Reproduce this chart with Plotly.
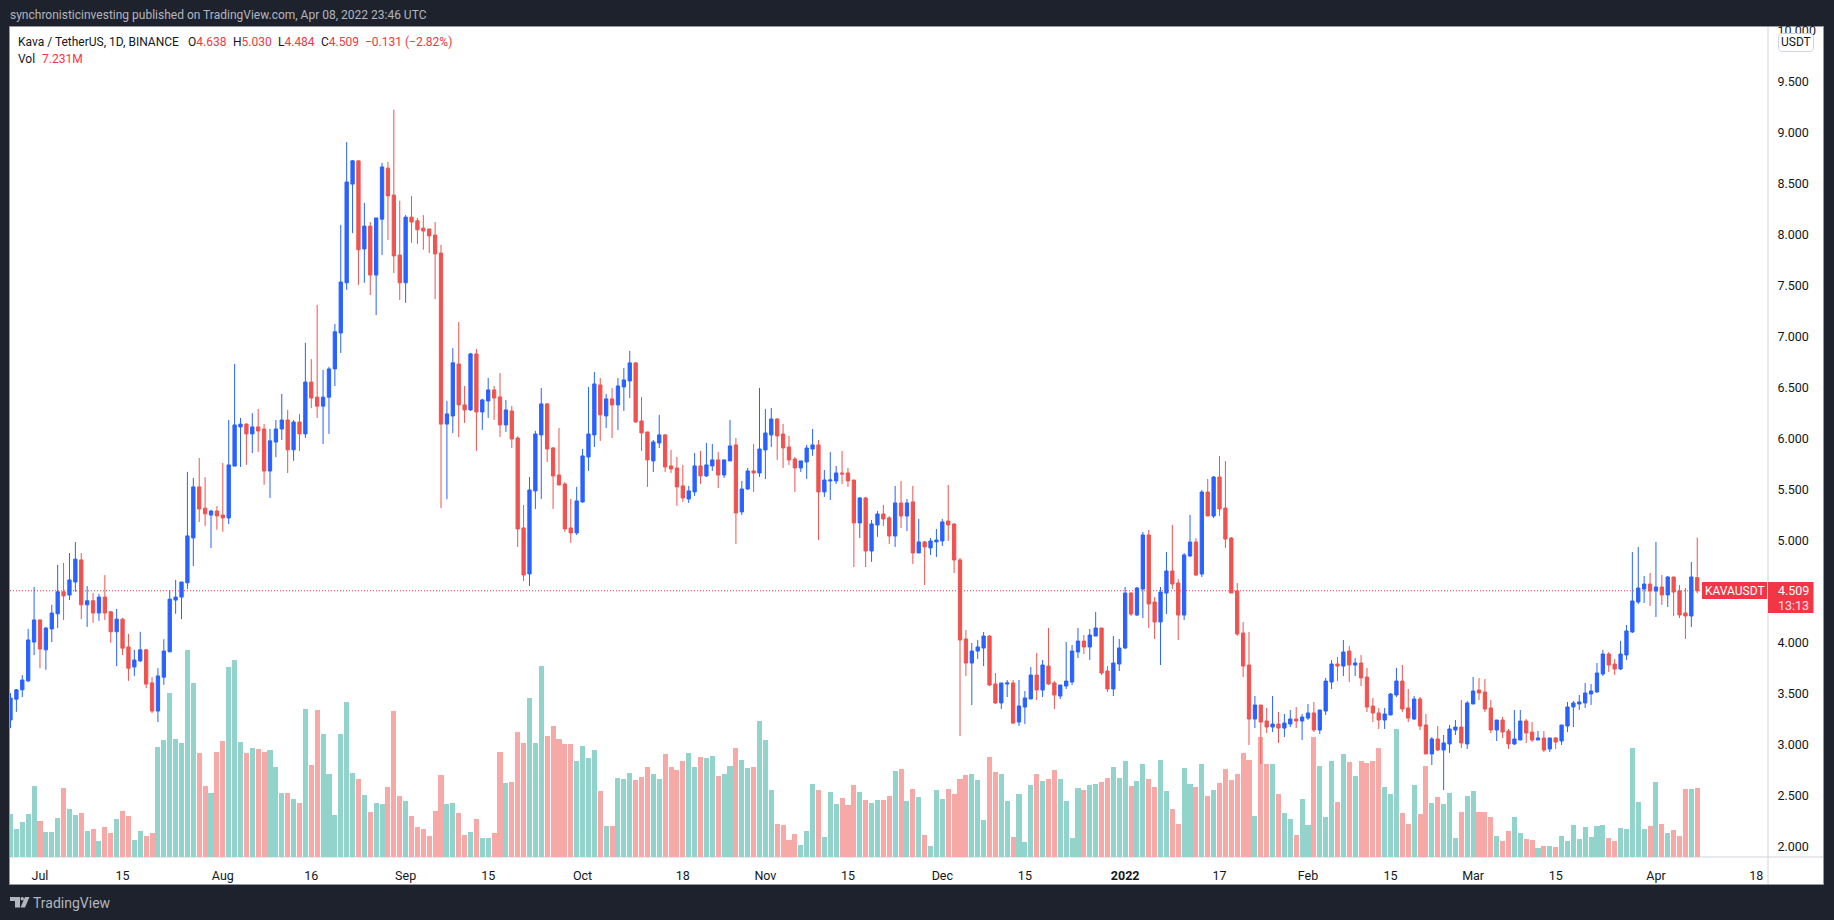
import pandas as pd
import plotly.graph_objects as go

# ---------- data ----------
opens = [
 3.242,3.446,3.538,3.626,4.006,4.223,3.930,4.135,4.283,4.499,
 4.467,4.595,4.811,4.371,4.411,4.291,4.447,4.303,4.107,4.231,
 3.958,3.762,3.822,3.930,3.606,3.330,3.662,3.910,4.418,4.447,
 4.587,5.027,5.527,5.319,5.251,5.291,5.251,5.223,5.731,6.115,
 6.143,6.047,6.115,6.095,5.683,5.967,6.095,6.183,5.891,6.163,
 6.047,6.555,6.407,6.319,6.407,6.684,7.036,7.528,8.496,8.724,
 7.860,8.084,7.604,8.152,8.652,8.388,7.800,7.528,8.172,8.136,
 8.064,8.056,7.996,7.820,6.143,6.223,6.732,6.331,6.282,6.831,
 6.262,6.370,6.478,6.409,6.135,6.272,6.007,5.125,4.674,5.488,
 6.037,6.341,5.909,5.644,5.556,5.125,5.076,5.380,5.821,6.037,
 6.527,6.223,6.390,6.331,6.507,6.566,6.743,6.174,6.066,5.782,
 5.958,6.037,5.733,5.713,5.537,5.409,5.478,5.733,5.635,5.733,
 5.792,5.644,5.782,5.939,5.282,5.507,5.684,5.664,5.890,6.037,
 6.193,6.046,5.919,5.801,5.713,5.772,5.899,5.939,5.478,5.586,
 5.586,5.664,5.664,5.595,5.174,5.419,4.899,5.154,5.262,5.223,
 5.046,5.370,5.242,5.380,4.880,4.988,4.929,4.988,4.997,5.193,
 5.163,4.811,4.036,3.801,3.918,3.948,4.065,3.595,3.409,3.595,
 3.605,3.222,3.369,3.448,3.683,3.536,3.771,3.605,3.477,3.575,
 3.614,3.909,4.016,3.958,4.065,4.144,3.722,3.546,3.791,3.948,
 4.487,4.271,4.526,5.056,4.399,4.203,4.487,4.703,4.585,4.271,
 4.850,4.987,4.673,5.477,5.242,5.624,5.320,5.026,4.507,4.095,
 3.781,3.252,3.389,3.232,3.173,3.203,3.163,3.203,3.252,3.232,
 3.261,3.311,3.144,3.330,3.614,3.791,3.771,3.918,3.781,3.801,
 3.663,3.379,3.311,3.242,3.291,3.487,3.624,3.360,3.252,3.448,
 3.193,2.909,3.056,2.948,3.007,3.144,3.173,3.007,3.399,3.536,
 3.517,3.360,3.144,3.242,3.134,3.007,3.046,3.232,3.124,3.046,
 3.066,2.958,3.066,3.036,3.183,3.370,3.399,3.409,3.497,3.517,
 3.693,3.889,3.791,3.742,3.879,4.105,4.399,4.526,4.575,4.507,
 4.546,4.468,4.644,4.507,4.291,4.262,4.638]
closes = [
 3.458,3.538,3.634,4.027,4.223,3.938,4.143,4.291,4.499,4.459,
 4.615,4.819,4.371,4.411,4.291,4.447,4.291,4.107,4.231,3.946,
 3.750,3.830,3.930,3.594,3.330,3.674,3.918,4.427,4.447,4.595,
 5.047,5.527,5.311,5.263,5.291,5.243,5.223,5.743,6.135,6.143,
 6.047,6.115,6.075,5.683,5.979,6.095,6.183,5.891,6.163,6.047,
 6.555,6.399,6.319,6.407,6.684,7.048,7.536,8.516,8.724,7.852,
 8.084,7.604,8.164,8.664,8.380,7.792,7.528,8.172,8.124,8.048,
 8.036,7.988,7.812,6.143,6.243,6.744,6.331,6.282,6.831,6.262,
 6.380,6.478,6.399,6.135,6.282,5.997,5.115,4.664,5.497,6.046,
 6.341,5.899,5.635,5.546,5.115,5.076,5.390,5.831,6.046,6.537,
 6.233,6.390,6.331,6.517,6.576,6.743,6.164,6.056,5.792,5.968,
 6.037,5.723,5.703,5.527,5.419,5.488,5.733,5.635,5.743,5.792,
 5.644,5.792,5.929,5.272,5.507,5.684,5.664,5.899,6.056,6.193,
 6.027,5.909,5.792,5.713,5.782,5.909,5.939,5.478,5.595,5.595,
 5.664,5.654,5.586,5.174,5.419,4.899,5.164,5.262,5.213,5.046,
 5.370,5.242,5.370,4.880,4.988,4.939,4.997,5.007,5.184,5.154,
 4.811,4.026,3.801,3.918,3.958,4.065,3.585,3.409,3.605,3.605,
 3.212,3.379,3.458,3.683,3.536,3.781,3.595,3.487,3.585,3.624,
 3.918,4.016,3.958,4.075,4.144,3.703,3.546,3.801,3.948,4.487,
 4.281,4.536,5.056,4.379,4.203,4.497,4.703,4.575,4.271,4.860,
 4.987,4.663,5.477,5.242,5.624,5.311,5.016,4.487,4.085,3.771,
 3.252,3.389,3.222,3.173,3.203,3.163,3.212,3.252,3.232,3.271,
 3.311,3.144,3.340,3.624,3.791,3.771,3.909,3.781,3.801,3.654,
 3.369,3.311,3.242,3.301,3.497,3.624,3.350,3.261,3.448,3.183,
 2.909,3.056,2.948,3.017,3.154,3.173,3.017,3.409,3.526,3.507,
 3.350,3.144,3.242,3.124,3.007,3.056,3.232,3.115,3.046,3.066,
 2.948,3.066,3.026,3.193,3.370,3.409,3.419,3.507,3.526,3.703,
 3.889,3.781,3.742,3.889,4.115,4.409,4.536,4.575,4.507,4.546,
 4.468,4.644,4.497,4.272,4.262,4.644,4.509]
highs = [
 3.506,3.546,3.682,4.135,4.547,4.231,4.155,4.371,4.763,4.783,
 4.879,4.987,4.879,4.555,4.487,4.479,4.663,4.311,4.331,4.243,
 4.087,3.930,4.107,3.938,3.662,3.750,4.035,4.515,4.615,4.595,
 5.675,5.615,5.811,5.623,5.303,5.339,5.763,6.183,6.732,6.203,
 6.151,6.251,6.291,6.143,6.095,6.183,6.439,6.283,6.183,6.243,
 6.940,6.780,7.312,6.675,6.704,7.124,8.096,8.908,8.732,8.724,
 8.312,8.124,8.164,8.704,8.712,9.225,8.332,8.192,8.380,8.164,
 8.192,8.056,8.124,7.900,6.371,6.888,7.144,6.517,6.841,6.880,
 6.390,6.595,6.517,6.644,6.380,6.321,6.024,5.350,5.625,6.076,
 6.497,6.350,5.919,6.105,5.576,5.409,5.527,5.899,6.507,6.654,
 6.595,6.439,6.497,6.595,6.693,6.860,6.752,6.409,6.066,5.988,
 6.233,6.046,5.890,5.821,5.743,5.537,5.860,5.880,5.958,5.948,
 5.870,5.792,6.184,6.007,5.586,5.713,5.948,6.497,6.292,6.301,
 6.203,6.144,6.027,5.821,5.782,5.939,6.095,5.988,5.693,5.870,
 5.733,5.880,5.713,5.595,5.429,5.429,5.203,5.292,5.350,5.242,
 5.537,5.586,5.409,5.537,5.213,4.997,5.027,5.115,5.213,5.546,
 5.173,4.830,4.124,3.997,4.026,4.105,4.075,3.703,3.605,3.634,
 3.634,3.634,3.526,3.761,3.899,3.830,4.144,3.624,3.585,4.007,
 3.977,4.144,4.075,4.134,4.301,4.144,3.771,4.065,4.036,4.546,
 4.497,4.546,5.085,5.105,4.448,4.546,4.889,5.154,4.624,4.879,
 5.252,5.026,5.497,5.605,5.634,5.830,5.781,5.036,4.585,4.203,
 4.105,3.477,3.389,3.360,3.477,3.320,3.301,3.340,3.369,3.301,
 3.399,3.418,3.340,3.654,3.830,3.860,4.026,3.967,3.850,3.879,
 3.752,3.458,3.360,3.360,3.507,3.752,3.781,3.546,3.477,3.468,
 3.301,3.075,3.183,3.095,3.193,3.242,3.438,3.428,3.664,3.654,
 3.644,3.438,3.242,3.272,3.154,3.340,3.340,3.252,3.223,3.134,
 3.134,3.066,3.075,3.193,3.419,3.428,3.487,3.605,3.595,3.801,
 3.928,3.909,3.840,4.017,4.173,4.889,4.938,4.654,4.683,4.987,
 4.664,4.654,4.644,4.566,4.536,4.791,5.030]
lows = [
 3.162,3.322,3.466,3.614,3.878,3.750,3.734,4.006,4.143,4.223,
 4.418,4.499,4.231,4.155,4.195,4.215,4.223,3.998,3.770,3.878,
 3.626,3.674,3.810,3.554,3.310,3.222,3.586,3.910,4.283,4.231,
 4.527,4.751,5.183,5.143,4.927,5.107,5.087,5.163,5.731,5.723,
 5.743,5.859,5.871,5.547,5.419,5.819,5.987,5.663,5.783,5.879,
 6.007,6.299,6.203,5.947,6.047,6.515,6.840,7.460,8.016,7.508,
 7.528,7.408,7.212,7.800,7.948,7.624,7.360,7.332,7.920,7.908,
 7.852,7.820,7.368,5.319,5.407,6.055,6.015,6.154,6.272,5.880,
 6.086,6.203,6.184,6.017,6.066,5.909,4.939,4.605,4.556,5.311,
 5.409,5.772,5.311,5.546,5.086,4.978,5.056,5.370,5.684,5.919,
 5.978,6.105,6.007,6.086,6.272,6.399,6.154,5.880,5.527,5.674,
 5.909,5.674,5.664,5.341,5.380,5.370,5.439,5.556,5.625,5.684,
 5.517,5.615,5.782,4.968,5.252,5.497,5.478,5.625,5.605,5.919,
 5.792,5.713,5.743,5.478,5.674,5.605,5.831,5.007,5.429,5.399,
 5.556,5.556,5.527,4.742,5.027,4.742,4.792,5.037,5.144,4.968,
 4.939,5.125,5.095,4.772,4.880,4.566,4.860,4.841,4.948,4.997,
 4.683,3.085,3.673,3.389,3.840,3.771,3.575,3.399,3.350,3.467,
 3.203,3.183,3.203,3.448,3.438,3.467,3.585,3.350,3.448,3.546,
 3.585,3.850,3.889,3.830,4.065,3.683,3.516,3.477,3.722,3.938,
 4.261,4.261,4.242,4.144,4.036,3.781,4.281,4.526,4.026,4.222,
 4.840,4.654,4.644,5.242,5.222,5.242,4.928,4.487,4.065,3.663,
 2.997,3.163,2.810,3.114,3.124,3.016,3.075,3.173,3.163,3.046,
 3.242,3.124,3.105,3.291,3.546,3.624,3.673,3.614,3.673,3.575,
 3.320,3.222,3.154,3.154,3.291,3.467,3.320,3.222,3.242,3.144,
 2.909,2.801,2.938,2.556,2.919,3.095,2.968,2.958,3.399,3.438,
 3.321,3.115,3.036,3.066,2.958,2.997,3.046,3.017,3.026,3.046,
 2.928,2.928,2.958,2.997,3.124,3.173,3.340,3.360,3.389,3.507,
 3.673,3.713,3.683,3.732,3.830,4.095,4.379,4.389,4.360,4.252,
 4.370,4.350,4.262,4.242,4.036,4.154,4.484]
volumes = [
 4.49,2.92,3.65,4.49,7.41,3.76,2.61,2.61,4.07,7.20,
 5.01,4.38,4.59,2.71,2.92,1.67,3.13,2.50,3.96,4.80,
 4.28,1.77,2.71,2.19,2.50,11.47,12.20,17.11,12.31,11.89,
 21.59,18.15,10.85,7.41,6.68,10.95,12.10,19.82,20.55,12.00,
 10.85,11.37,11.27,10.95,11.16,9.39,6.68,6.68,6.05,5.63,
 15.44,9.60,15.33,12.83,8.66,4.38,12.83,16.17,8.76,8.14,
 6.47,4.69,5.63,5.53,7.30,15.23,6.36,5.84,4.28,3.13,
 2.92,2.19,4.80,8.55,5.53,5.63,4.59,2.29,2.61,3.96,
 1.98,1.98,2.50,10.95,7.72,7.82,13.04,11.89,16.59,11.89,
 19.92,12.62,13.66,12.31,11.79,11.79,10.01,11.58,10.33,11.16,
 6.88,3.23,3.23,8.24,8.14,8.76,8.03,8.34,9.39,8.66,
 8.14,10.74,9.39,9.07,10.01,10.85,9.39,10.43,10.33,10.54,
 8.45,8.66,9.49,11.37,10.12,9.28,9.39,14.19,12.20,6.99,
 3.44,3.34,1.77,2.40,1.25,2.71,7.61,6.99,2.09,6.78,
 5.53,6.15,5.42,7.51,6.78,5.95,5.63,5.95,5.95,6.36,
 8.97,9.18,5.84,7.09,6.26,2.29,1.15,6.99,6.05,7.09,
 6.57,8.14,8.55,8.66,8.03,3.86,10.43,8.87,8.66,5.84,
 2.09,6.57,1.56,7.51,8.66,7.93,8.14,9.07,8.14,5.84,
 1.98,7.20,6.99,7.51,7.61,7.82,8.24,9.39,8.24,10.01,
 7.41,7.93,9.70,8.14,7.30,10.12,6.88,5.01,3.44,9.28,
 7.61,7.30,9.70,6.36,6.99,7.72,9.18,8.03,8.66,10.85,
 10.12,4.28,12.52,9.70,9.70,6.57,4.59,3.96,2.29,6.05,
 3.34,12.52,9.49,4.17,10.01,5.74,10.74,9.91,8.45,10.01,
 9.81,10.01,11.37,7.30,6.57,13.35,4.59,3.44,7.51,4.49,
 9.49,5.63,6.26,5.53,6.68,1.98,4.69,6.36,6.88,4.69,
 4.69,4.17,2.19,1.67,2.71,4.17,2.50,1.88,1.77,0.94,
 1.15,1.15,1.04,2.19,1.67,3.34,1.88,3.13,2.09,3.23,
 3.34,1.98,1.67,3.02,2.92,11.37,5.74,2.92,3.23,7.82,
 3.44,2.50,2.82,2.19,7.09,7.09,7.231]
first_date = "2021-06-26"
x_tick_dates = ["2021-07-01","2021-07-15","2021-08-01","2021-08-16","2021-09-01","2021-09-15",
                "2021-10-01","2021-10-18","2021-11-01","2021-11-15","2021-12-01","2021-12-15",
                "2022-01-01","2022-01-17","2022-02-01","2022-02-15","2022-03-01","2022-03-15",
                "2022-04-01","2022-04-18"]
x_tick_labels = ["Jul","15","Aug","16","Sep","15","Oct","18","Nov","15","Dec","15",
                 "<b>2022</b>","17","Feb","15","Mar","15","Apr","18"]
price_ticks = [2.0,2.5,3.0,3.5,4.0,4.5,5.0,5.5,6.0,6.5,7.0,7.5,8.0,8.5,9.0,9.5,10.0]
last_close = 4.509

assert len(opens)==len(closes)==len(highs)==len(lows)==len(volumes), (len(opens),len(closes),len(highs),len(lows),len(volumes))

dates = pd.date_range(first_date, periods=len(opens), freq="D")

# ---------- styles ----------
W, H = 1834, 920
L, R, T, B = 10, 1768, 27, 857
DARK = "#1E222D"; UP = "#2962FF"; DOWN = "#EF5350"; LABEL = "#F23645"
TXT = "#131722"; GREY = "#B2B5BE"; AXIS = "#E0E3EB"; FONT = "Roboto, sans-serif"
VOL_UP = "#92D3CC"; VOL_DOWN = "#F7A9A7"

def fx(x): return (x - L) / (R - L)
def fy(y): return (B - y) / (B - T)

vol_colors = [VOL_DOWN if c < o else VOL_UP for o, c in zip(opens, closes)]

fig = go.Figure()
fig.add_trace(go.Bar(x=dates, y=volumes, marker=dict(color=vol_colors, line_width=0),
                     width=0.86 * 86400000, yaxis="y", hoverinfo="skip"))
fig.add_trace(go.Candlestick(x=dates, open=opens, high=highs, low=lows, close=closes, yaxis="y2",
                             whiskerwidth=0,
                             increasing=dict(line=dict(color=UP, width=1), fillcolor=UP),
                             decreasing=dict(line=dict(color=DOWN, width=1), fillcolor=DOWN)))

def rect(x0, y0, x1, y1, fill, line=None, layer="below"):
    return dict(type="rect", xref="paper", yref="paper", x0=fx(x0), x1=fx(x1), y0=fy(y0), y1=fy(y1),
                fillcolor=fill, line=dict(color=line or fill, width=1 if line else 0), layer=layer)

def vline(x, y0, y1, color, layer="below"):
    return dict(type="line", xref="paper", yref="paper", x0=fx(x), x1=fx(x), y0=fy(y0), y1=fy(y1),
                line=dict(color=color, width=1), layer=layer)

def hline(y, x0, x1, color, layer="below"):
    return dict(type="line", xref="paper", yref="paper", x0=fx(x0), x1=fx(x1), y0=fy(y), y1=fy(y),
                line=dict(color=color, width=1), layer=layer)

def poly(pts, fill, line=None):
    d = "M " + " L ".join(f"{fx(a):.5f} {fy(b):.5f}" for a, b in pts) + " Z"
    return dict(type="path", xref="paper", yref="paper", path=d, fillcolor=fill,
                line=dict(color=line or fill, width=1 if line else 0), layer="above")

def rounded(x0, y0, x1, y1, r, fill, line):
    p = [(x0 + r, y0), (x1 - r, y0), (x1 - 1, y0 + 1), (x1, y0 + r), (x1, y1 - r), (x1 - 1, y1 - 1), (x1 - r, y1),
         (x0 + r, y1), (x0 + 1, y1 - 1), (x0, y1 - r), (x0, y0 + r), (x0 + 1, y0 + 1)]
    return poly(p, fill, line)

shapes = [
    rect(9.5, 26.5, 1823.5, 884.5, "#FFFFFF", "#9598A1"),
    vline(R, T, 884, "#D1D4DC"),
    hline(B, L, 1823, "#D1D4DC"),
    dict(type="line", xref="paper", yref="y2", x0=0, x1=fx(1702), y0=last_close, y1=last_close,
         line=dict(color=LABEL, width=1, dash="1px,2px"), layer="below"),
    rect(0, 0, 1834, 26, DARK, layer="above"),
    rounded(1778.5, 33.5, 1813.5, 51.5, 3, "#FFFFFF", "#D1D4DC"),
    rect(1702, 582, 1767, 599, LABEL, layer="above"),
    rect(1768, 582, 1813.5, 613, LABEL, layer="above"),
    # TradingView logo
    poly([(10, 897), (20, 897), (20, 907.5), (15, 907.5), (15, 901), (10, 901)], GREY),
    poly([(29.5, 897), (25, 907.5), (20.5, 907.5), (25, 897)], GREY),
    dict(type="circle", xref="paper", yref="paper", x0=fx(20.5), x1=fx(24), y0=fy(897), y1=fy(900.5),
         fillcolor=GREY, line_width=0, layer="above"),
]

def label(x, y, text, size=12, color=TXT, anchor="left"):
    return dict(xref="paper", yref="paper", x=fx(x), y=fy(y), text=text, showarrow=False, xanchor=anchor,
                yanchor="middle", font=dict(family=FONT, size=size, color=color), borderpad=0, borderwidth=0)

def ohlc(x, y, letter, value):
    return label(x, y, f'<span style="color:{TXT}">{letter}</span><span style="color:{LABEL}">{value}</span>')

annotations = [
    label(10, 15, "synchronisticinvesting published on TradingView.com, Apr 08, 2022 23:46 UTC", color=GREY),
    label(18, 41.5, "Kava / TetherUS, 1D, BINANCE"),
    ohlc(188, 41.5, "O", "4.638"), ohlc(233, 41.5, "H", "5.030"),
    ohlc(278, 41.5, "L", "4.484"), ohlc(321, 41.5, "C", "4.509"),
    label(365, 41.5, "−0.131 (−2.82%)", color=LABEL),
    label(18, 59, "Vol"),
    label(42, 59, "7.231M", color=LABEL),
    label(1796, 42.5, "USDT", anchor="center"),
    label(1734.5, 590.5, "KAVAUSDT", color="#FFFFFF", anchor="center"),
    label(1778, 590.5, "4.509", size=12.5, color="#FFFFFF"),
    label(1778, 605, "13:13", size=12.5, color="#FFE3E6"),
    label(33, 902.5, "TradingView", size=14, color=GREY),
]

fig.update_layout(
    width=W, height=H, margin=dict(l=L, r=W - R, t=T, b=H - B, pad=0, autoexpand=False),
    paper_bgcolor=DARK, plot_bgcolor="rgba(0,0,0,0)", showlegend=False, boxgap=0.2, bargap=0,
    font=dict(family=FONT, size=12.5, color=TXT), shapes=shapes, annotations=annotations,
    xaxis=dict(type="date", range=["2021-06-25 22:00", "2022-04-20 00:00"], rangeslider=dict(visible=False),
               tickmode="array", tickvals=x_tick_dates, ticktext=x_tick_labels, showgrid=False, zeroline=False,
               ticks="outside", ticklen=7, tickcolor="rgba(0,0,0,0)", showline=False,
               tickfont=dict(family=FONT, size=12.5, color=TXT)),
    yaxis=dict(range=[0, 86.55], visible=False, showgrid=False, zeroline=False, fixedrange=True),
    yaxis2=dict(range=[1.899, 10.036], overlaying="y", side="right", tickmode="array", tickvals=price_ticks,
                tickformat=".3f", showgrid=False, zeroline=False, showline=False, ticks="outside", ticklen=6,
                tickcolor="rgba(0,0,0,0)", tickfont=dict(family=FONT, size=12.5, color=TXT)),
)

fig.write_html("out.html", config=dict(displayModeBar=False),
               post_script="document.body.style.margin='0';document.body.style.overflow='hidden';")
